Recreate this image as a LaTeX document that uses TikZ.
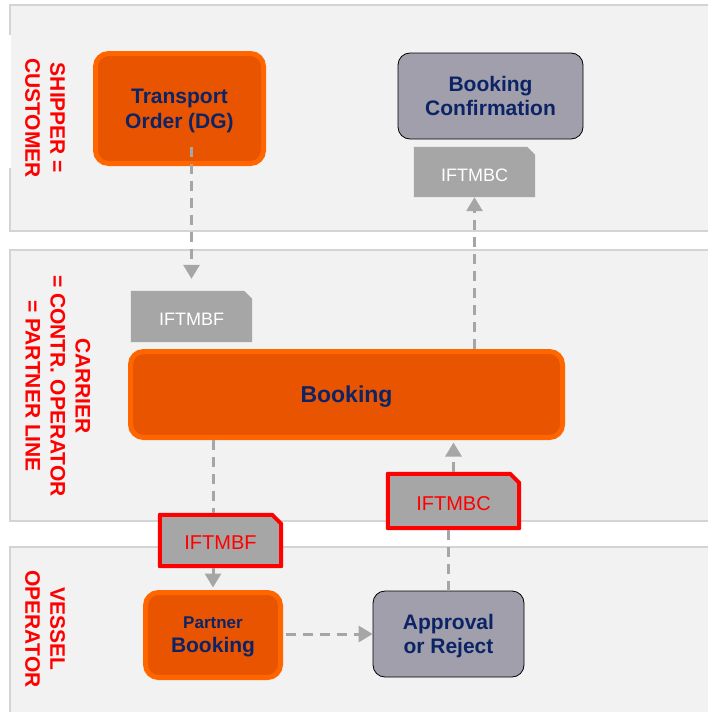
\documentclass[tikz,border=0pt]{standalone}
\usepackage{fontspec}
\setmainfont{Liberation Sans}
\usetikzlibrary{arrows.meta,calc}
\pgfdeclarelayer{lanes}
\pgfdeclarelayer{docs}
\pgfsetlayers{lanes,docs,main}
\definecolor{orfill}{RGB}{232,84,0}
\definecolor{orline}{RGB}{255,102,0}
\definecolor{navy}{RGB}{12,36,102}
\definecolor{boxgray}{RGB}{160,159,171}
\definecolor{docgray}{RGB}{166,166,166}
\definecolor{lanefill}{RGB}{242,242,242}
\definecolor{laneline}{RGB}{212,212,212}
\definecolor{lblred}{RGB}{255,0,0}
\tikzset{
  lanebox/.style={fill=lanefill,draw=laneline,line width=1.5pt},
  lanelabel/.style={rotate=-90,align=center,text=lblred,font=\bfseries\fontsize{21}{25}\selectfont,inner sep=0pt},
  orbox/.style={rectangle,rounded corners=13pt,fill=orfill,draw=orline,line width=5pt,text=navy,align=center,inner sep=0pt,text depth=0pt,font=\bfseries\fontsize{21}{25}\selectfont},
  graybox/.style={rectangle,rounded corners=12pt,fill=boxgray,draw=black,line width=0.8pt,text=navy,align=center,inner sep=0pt,text depth=0pt,font=\bfseries\fontsize{21}{24}\selectfont},
  docbox/.style={rectangle,inner sep=0pt},
  docfill/.style={fill=docgray},
  docred/.style={fill=docgray,draw=lblred,line width=4pt,line join=round},
  doctextw/.style={text=white,font=\fontsize{18}{20}\selectfont,yshift=-3pt},
  doctextr/.style={text=lblred,font=\fontsize{20}{22}\selectfont,yshift=-2.5pt},
  flow/.style={draw=docgray,line width=3pt,dash pattern=on 10pt off 7pt},
  flowarrow/.style={flow,-{Triangle[width=16pt,length=14pt]}}
}
\begin{document}
\begin{tikzpicture}[x=1pt,y=-1pt]
\useasboundingbox (0,0) rectangle (708,712);
\clip (0,0) rectangle (708,712);
% lanes
\begin{pgfonlayer}{lanes}
\fill[white] (0,0) rectangle (708,712);
\path[lanebox] (10,5) rectangle (730,231);
\path[lanebox] (10,250) rectangle (730,521);
\path[lanebox] (10,547) rectangle (730,730);
\fill[white] (0,35) rectangle (11.2,168);
\end{pgfonlayer}
% lane labels
\node[lanelabel] (l1) at (45,118) {SHIPPER =\\CUSTOMER};
\node[lanelabel] (l2) at (58,386) {CARRIER\\= CONTR. OPERATOR\\= PARTNER LINE};
\node[lanelabel] (l3) at (45,629) {VESSEL\\OPERATOR};
% process boxes
\node[orbox,minimum width=168pt,minimum height=110pt] (to) at (179.5,108.5) {Transport\\Order (DG)};
\node[graybox,minimum width=185pt,minimum height=86pt] (bc) at (490.5,96) {Booking\\Confirmation};
\node[orbox,minimum width=432pt,minimum height=86pt,font=\bfseries\fontsize{23}{27}\selectfont] (bk) at (346.5,394.5) {Booking};
\node[orbox,minimum width=135pt,minimum height=85pt] (pb) at (213,635) {{\fontsize{17}{20}\selectfont Partner}\\[-1pt]Booking};
\node[graybox,minimum width=151pt,minimum height=86pt] (ap) at (448.5,634) {Approval\\or Reject};
% documents
\node[docbox,minimum width=121pt,minimum height=50pt,label={[doctextw]center:IFTMBC}] (tc) at (474.5,172) {};
\node[docbox,minimum width=121pt,minimum height=51pt,label={[doctextw]center:IFTMBF}] (gf) at (191.5,316.5) {};
\node[docbox,minimum width=121pt,minimum height=51pt,label={[doctextr]center:IFTMBF}] (rf) at (220.5,540.5) {};
\node[docbox,minimum width=131pt,minimum height=54pt,label={[doctextr]center:IFTMBC}] (rc) at (453.5,501) {};
\begin{pgfonlayer}{docs}
\path[docfill] (tc.south west) -- (tc.north west) -- ($(tc.north east)+(-8,0)$) -- ($(tc.north east)+(0,8)$) -- (tc.south east) -- cycle;
\path[docfill] (gf.south west) -- (gf.north west) -- ($(gf.north east)+(-8,0)$) -- ($(gf.north east)+(0,8)$) -- (gf.south east) -- cycle;
\path[docred] (rf.south west) -- (rf.north west) -- ($(rf.north east)+(-9,0)$) -- ($(rf.north east)+(0,9)$) -- (rf.south east) -- cycle;
\path[docred] (rc.south west) -- (rc.north west) -- ($(rc.north east)+(-9,0)$) -- ($(rc.north east)+(0,9)$) -- (rc.south east) -- cycle;
\end{pgfonlayer}
% connectors
\draw[flowarrow,shorten >=12pt] ($(gf.north |- to.south)+(0,-19.5)$) -- (gf.north);
\draw[flowarrow] (tc.south |- bk.north) -- (tc.south);
\draw[flow,shorten >=2pt] (pb.north |- bk.south) -- (pb.north |- rf.north);
\draw[flowarrow,shorten <=2pt,shorten >=2.5pt] (pb.north |- rf.south) -- (pb.north);
\draw[flowarrow,shorten <=2.5pt] (pb.east |- ap.west) -- (ap.west);
\draw[flow,shorten >=2pt] (ap.north) -- (ap.north |- rc.south);
\draw[flowarrow,shorten <=2pt,shorten >=2.5pt] (rc.north) -- (rc.north |- bk.south);
\end{tikzpicture}
\end{document}
